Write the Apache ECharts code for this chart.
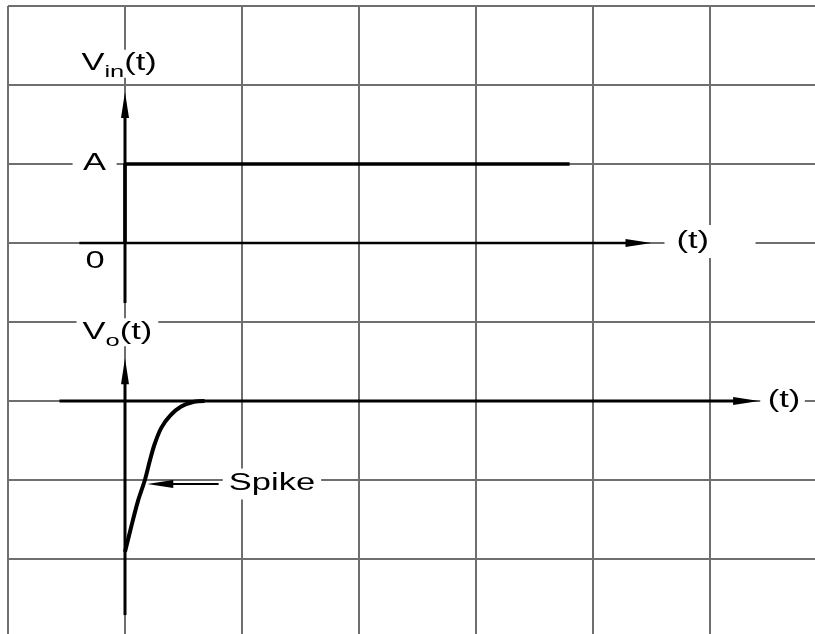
<!DOCTYPE html>
<html>
<head>
<meta charset="utf-8">
<title>Vin / Vo spike</title>
<script src="https://cdn.jsdelivr.net/npm/echarts@6/dist/echarts.min.js"></script>
<style>
  html, body { margin: 0; padding: 0; background: #fff; }
  #chart { width: 815px; height: 634px; }
</style>
</head>
<body>
<div id="chart"></div>
<script>
// everything is in grid divisions: x = time divisions (0 = step edge),
// y = divisions (0 = Vo baseline, Vin baseline sits 2 divisions higher)
const vinZero = 2;
const vinT = [0, 0, 3.8];
const vinV = [0, 1, 1]; // 1 = A
const voT = [0, 0.05, 0.11, 0.17, 0.21, 0.25, 0.31, 0.39, 0.48, 0.59, 0.68];
const voV = [-1.91, -1.61, -1.27, -1.0, -0.77, -0.56, -0.34, -0.18, -0.07, -0.01, 0];

// drawn axes [x1, y1, x2, y2], arrow head at the second point
const vinTimeAxis = [-0.39, 2, 4.5, 2];
const vinValAxis = [0, 1.24, 0, 3.91];
const voTimeAxis = [-0.56, 0, 5.42, 0];
const voValAxis = [0, -2.71, 0, 0.54];
const spikePointer = [0.8, -1.05, 0.19, -1.05];

const ink = '#000';
const font = '"Liberation Sans", Arial, sans-serif';
const gridColor = '#6f6f6f';

var chart = echarts.init(document.getElementById('chart'));

// line with a slim filled arrow head whose tip sits on the end point
function renderArrow(params, api) {
  const a = api.coord([api.value(0), api.value(1)]);
  const b = api.coord([api.value(2), api.value(3)]);
  const w = api.value(4);
  const ang = Math.atan2(b[1] - a[1], b[0] - a[0]);
  const len = 26, half = 4;
  const c = Math.cos(ang), s = Math.sin(ang);
  const base = [b[0] - len * c, b[1] - len * s];
  return {
    type: 'group',
    children: [
      {
        type: 'line',
        shape: { x1: a[0], y1: a[1], x2: base[0] + 2 * c, y2: base[1] + 2 * s },
        style: { stroke: ink, lineWidth: w }
      },
      {
        type: 'polygon',
        shape: { points: [b, [base[0] - half * s, base[1] + half * c], [base[0] + half * s, base[1] - half * c]] },
        style: { fill: ink }
      }
    ]
  };
}

const subRich = {
  m: { fontSize: 23, fontFamily: font, fill: ink, lineHeight: 26 },
  s: { fontSize: 17, fontFamily: font, fill: ink, lineHeight: 18, padding: [18, 0, 0, 0] }
};

// text labels: [x, y], text, white box padding (before the 1.5 horizontal stretch)
const labelItems = [
  { value: [-0.05, 4.27], text: '{m|V}{s|in}{m|(t)}', rich: true, pad: [1, 2, 1, 2], bg: true },
  { value: [-0.065, 0.87], text: '{m|V}{s|o}{m|(t)}', rich: true, pad: [1, 4, 1, 4], bg: true },
  { value: [-0.26, 3.0], text: 'A', pad: [4, 7, 4, 7], bg: true },
  { value: [-0.255, 1.76], text: '0', pad: [0, 0, 0, 0], bg: false },
  { value: [5.0, 2.02], text: '(t)', pad: [5, 31, 5, 8], bg: true },
  { value: [5.62, 0.0], text: '(t)', pad: [5, 3, 5, 5], bg: true },
  { value: [1.256, -1.05], text: 'Spike', pad: [4, 4, 4, 4], bg: true }
];

function renderLabel(params, api) {
  const item = labelItems[params.dataIndex];
  const p = api.coord([api.value(0), api.value(1)]);
  const style = {
    text: item.text,
    fontFamily: font,
    fontSize: 23,
    fill: ink,
    align: 'center',
    verticalAlign: 'middle',
    padding: item.pad
  };
  if (item.rich) style.rich = subRich;
  if (item.bg) style.backgroundColor = '#fff';
  return { type: 'text', x: p[0], y: p[1], scaleX: 1.5, style: style };
}

var option = {
  animation: false,
  backgroundColor: '#fff',
  grid: { left: 8, top: 6, width: 819, height: 632, containLabel: false, outerBoundsMode: 'none' },
  xAxis: {
    type: 'value', min: -1, max: 6, interval: 1,
    axisLine: { show: false }, axisTick: { show: false }, axisLabel: { show: false },
    splitLine: { show: true, lineStyle: { color: gridColor, width: 2 } }
  },
  yAxis: {
    type: 'value', min: -3, max: 5, interval: 1,
    axisLine: { show: false }, axisTick: { show: false }, axisLabel: { show: false },
    splitLine: { show: true, lineStyle: { color: gridColor, width: 2 } }
  },
  series: [
    {
      name: 'axes',
      type: 'custom',
      silent: true,
      clip: false,
      z: 3,
      renderItem: renderArrow,
      data: [
        vinTimeAxis.concat([2.5]),
        vinValAxis.concat([3]),
        voTimeAxis.concat([3]),
        voValAxis.concat([3]),
        spikePointer.concat([2])
      ]
    },
    {
      name: 'Vin',
      type: 'line',
      silent: true,
      showSymbol: false,
      lineStyle: { color: ink, width: 3.5 },
      z: 4,
      data: vinT.map((t, i) => [t, vinZero + vinV[i]])
    },
    {
      name: 'Vo',
      type: 'line',
      silent: true,
      showSymbol: false,
      smooth: 0.3,
      lineStyle: { color: ink, width: 4 },
      z: 4,
      data: voT.map((t, i) => [t, voV[i]])
    },
    {
      name: 'labels',
      type: 'custom',
      silent: true,
      clip: false,
      z: 5,
      renderItem: renderLabel,
      data: labelItems.map(d => d.value)
    }
  ]
};

chart.setOption(option);
</script>
</body>
</html>
